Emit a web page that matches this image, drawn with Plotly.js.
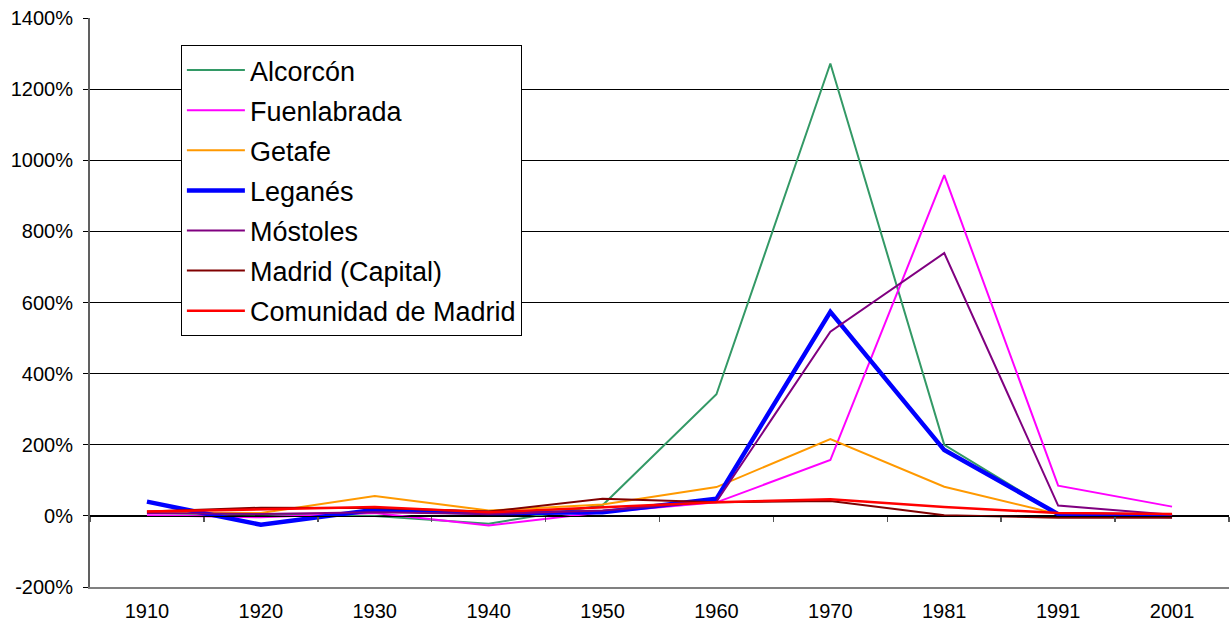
<!DOCTYPE html>
<html>
<head>
<meta charset="utf-8">
<script src="https://cdn.plot.ly/plotly-3.0.1.min.js"></script>
<style>html,body{margin:0;padding:0;background:#fff}#chart{width:1230px;height:628px}</style>
</head>
<body>
<div id="chart"></div>
<script>
const years = ["1910","1920","1930","1940","1950","1960","1970","1981","1991","2001"];
const seriesNames = ["Alcorcón","Fuenlabrada","Getafe","Leganés","Móstoles","Madrid (Capital)","Comunidad de Madrid"];
const alcorcon   = [8, 5, 0, -22, 30, 342, 1272, 200, 5, 2];
const fuenlabrada= [2, -4, 8, -27, 10, 38, 157, 958, 85, 26];
const getafe     = [10, 8, 56, 15, 32, 81, 216, 82, 5, 2];
const leganes    = [40, -25, 17, 8, 10, 48, 574, 185, 5, 0];
const mostoles   = [8, 5, 10, 5, 15, 40, 518, 739, 29, 3];
const madridCap  = [12, 23, 22, 12, 48, 38, 42, 2, -5, -5];
const comunidad  = [12, 18, 25, 10, 25, 38, 47, 25, 8, 5];
const yTickVals  = [-200, 0, 200, 400, 600, 800, 1000, 1200, 1400];

const colors = ["#339966","#FF00FF","#FF9900","#0000FF","#800080","#800000","#FF0000"];
const widths = [2, 2, 2, 4.5, 2, 2, 2.5];
const allData = [alcorcon, fuenlabrada, getafe, leganes, mostoles, madridCap, comunidad];

const traces = allData.map((vals, i) => ({
  type: "scatter", mode: "lines", x: years, y: vals, name: seriesNames[i],
  legendgroup: "g" + i,
  line: {color: colors[i], width: widths[i]}
}));

const layout = {
  width: 1230, height: 628,
  margin: {l: 90, r: 1, t: 18, b: 41},
  paper_bgcolor: "#fff", plot_bgcolor: "#fff",
  font: {family: "Liberation Sans, Arial, sans-serif", color: "#000", size: 20},
  showlegend: true,
  legend: {
    x: 0.0798, y: 0.9525, xanchor: "left", yanchor: "top",
    bgcolor: "#fff", bordercolor: "#000", borderwidth: 1,
    font: {size: 27, family: "Liberation Sans, Arial, sans-serif"},
    traceorder: "grouped", tracegroupgap: 2, itemwidth: 58
  },
  xaxis: {
    type: "category", categoryorder: "array", categoryarray: years,
    range: [-0.5, 9.5], showgrid: false, zeroline: false,
    showline: true, linecolor: "#808080", linewidth: 2,
    ticks: "", ticklen: 0, tickfont: {size: 20}, ticklabelstandoff: 5, fixedrange: true
  },
  xaxis2: {
    type: "category", categoryorder: "array", categoryarray: years,
    range: [-0.5, 9.5], overlaying: "x", anchor: "free", position: 0.125,
    showline: true, linecolor: "#000", linewidth: 1.5,
    ticks: "outside", tickson: "boundaries", ticklen: 5, tickcolor: "#555", tickwidth: 1.5,
    showticklabels: false, showgrid: false, zeroline: false
  },
  yaxis: {
    range: [-200, 1400], tickvals: yTickVals,
    ticktext: yTickVals.map(v => v + "%"),
    showgrid: true, gridcolor: "#000", gridwidth: 1,
    zeroline: false,
    showline: true, linecolor: "#606060", linewidth: 2,
    ticks: "outside", ticklen: 5, tickcolor: "#000",
    tickfont: {size: 20}, ticklabelstandoff: 6, fixedrange: true
  }
};

traces.unshift({type: "scatter", mode: "lines", x: years, y: years.map(() => null), xaxis: "x2", yaxis: "y", showlegend: false, hoverinfo: "skip"});

Plotly.newPlot("chart", traces, layout, {staticPlot: true});
</script>
</body>
</html>
